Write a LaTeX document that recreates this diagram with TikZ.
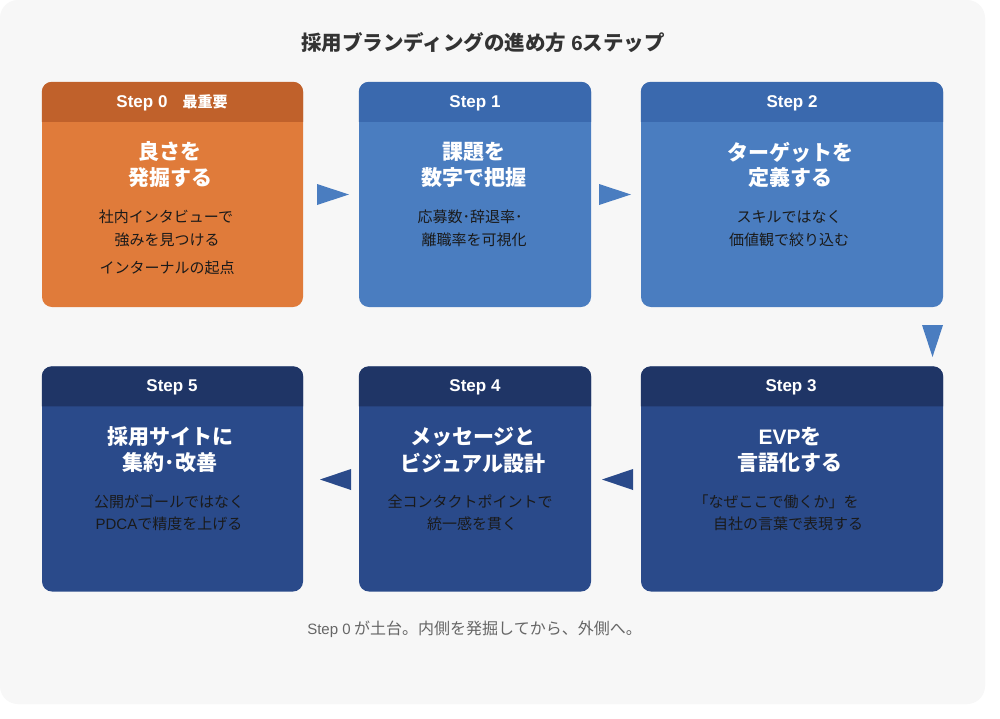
\documentclass[tikz,border=0pt]{standalone}
\usepackage{fontspec}
\setmainfont{Noto Sans CJK JP}
\newfontfamily\latf{Liberation Sans}
\definecolor{bgc}{HTML}{F7F7F7}
\definecolor{ohead}{HTML}{C0612B}
\definecolor{obody}{HTML}{E07B3A}
\definecolor{bhead}{HTML}{3A69AE}
\definecolor{bbody}{HTML}{4A7DC0}
\definecolor{nhead}{HTML}{1F3566}
\definecolor{nbody}{HTML}{2A4A8A}
\definecolor{txt}{HTML}{1A1A1A}
\definecolor{ttlc}{HTML}{333333}
\definecolor{footc}{HTML}{666666}
\newcommand\hstep[1]{{\latf\bfseries\fontsize{17}{18}\selectfont Step #1}}
\tikzset{
  card/.style={rounded corners=10pt, minimum height=225pt, inner sep=0pt, draw=none},
  hdrtext/.style={text=white, font=\fontsize{15}{18}\selectfont\bfseries, inner sep=0pt},
  ttl/.style={text=white, font=\fontsize{21}{26}\selectfont\bfseries, inner sep=0pt},
  bd/.style={text=txt, font=\fontsize{15}{18}\selectfont, inner sep=0pt},
}
\newcommand\cardhead[2]{\fill[#2] ([yshift=-40pt]#1.north west) [rounded corners=10pt] -- (#1.north west) -- (#1.north east) [sharp corners] -- ([yshift=-40pt]#1.north east) -- cycle;}
\begin{document}
\begin{tikzpicture}[x=1pt,y=-1pt]
\useasboundingbox (0,0) rectangle (1000,718);
\fill[white] (0,0) rectangle (1000,718);
\fill[bgc, rounded corners=18pt] (0,0) rectangle (985,704);

\node[text=ttlc, font=\fontsize{20.5}{24}\selectfont\bfseries, inner sep=0pt] (title) at (483,43) {採用ブランディングの進め方\hspace{5pt}{\latf 6}ステップ};

% row 1
\node[card, fill=obody, minimum width=261pt] (c0) at (172.5,194.5) {};
\node[card, fill=bbody, minimum width=232pt] (c1) at (475,194.5) {};
\node[card, fill=bbody, minimum width=302pt] (c2) at (792,194.5) {};
% row 2
\node[card, fill=nbody, minimum width=261pt] (c5) at (172.5,479) {};
\node[card, fill=nbody, minimum width=232pt] (c4) at (475,479) {};
\node[card, fill=nbody, minimum width=302pt] (c3) at (792,479) {};

\cardhead{c0}{ohead}
\cardhead{c1}{bhead}
\cardhead{c2}{bhead}
\cardhead{c3}{nhead}
\cardhead{c4}{nhead}
\cardhead{c5}{nhead}

% headers
\node[hdrtext] (h0) at (172,103) {\hstep{0}　最重要};
\node[hdrtext] (h1) at (475,103) {\hstep{1}};
\node[hdrtext] (h2) at (792,103) {\hstep{2}};
\node[hdrtext] (h3) at (791,387) {\hstep{3}};
\node[hdrtext] (h4) at (475,387) {\hstep{4}};
\node[hdrtext] (h5) at (172,387) {\hstep{5}};

% card 0
\node[ttl] (t0a) at (170,152) {良さを};
\node[ttl] (t0b) at (170,178) {発掘する};
\node[bd] (b0a) at (166,217) {社内インタビューで};
\node[bd] (b0b) at (167,240) {強みを見つける};
\node[bd] (b0c) at (167,268) {インターナルの起点};
% card 1
\node[ttl] (t1a) at (474,152) {課題を};
\node[ttl] (t1b) at (474,178) {数字で把握};
\node[bd] (b1a) at (470,217) {応募数･辞退率･};
\node[bd] (b1b) at (474,240) {離職率を可視化};
% card 2
\node[ttl] (t2a) at (790,152) {ターゲットを};
\node[ttl] (t2b) at (790,178) {定義する};
\node[bd] (b2a) at (789,217) {スキルではなく};
\node[bd] (b2b) at (789,240) {価値観で絞り込む};
% card 3
\node[ttl] (t3a) at (790,437) {{\latf EVP}を};
\node[ttl] (t3b) at (790,463) {言語化する};
\node[bd] (b3a) at (776,502) {「なぜここで働くか」を};
\node[bd] (b3b) at (788,524) {自社の言葉で表現する};
% card 4
\node[ttl] (t4a) at (473,437) {メッセージと};
\node[ttl] (t4b) at (473,463) {ビジュアル設計};
\node[bd] (b4a) at (470,502) {全コンタクトポイントで};
\node[bd] (b4b) at (472,524) {統一感を貫く};
% card 5
\node[ttl] (t5a) at (170,437) {採用サイトに};
\node[ttl] (t5b) at (170,463) {集約･改善};
\node[bd] (b5a) at (169,502) {公開がゴールではなく};
\node[bd] (b5b) at (169,524) {{\latf PDCA}で精度を上げる};

% arrows
\fill[bbody] (317,184) -- (349,194.5) -- (317,205) -- cycle;
\fill[bbody] (599,184) -- (631,194.5) -- (599,205) -- cycle;
\fill[bbody] (922,325) -- (943,325) -- (932.5,357) -- cycle;
\fill[nbody] (633,469) -- (602,479.5) -- (633,490) -- cycle;
\fill[nbody] (351,469) -- (320,479.5) -- (351,490) -- cycle;

\node[text=footc, font=\fontsize{16}{18}\selectfont, inner sep=0pt] (foot) at (474.5,629) {{\latf\fontsize{15}{16}\selectfont Step 0} が土台。内側を発掘してから、外側へ。};
\end{tikzpicture}
\end{document}
